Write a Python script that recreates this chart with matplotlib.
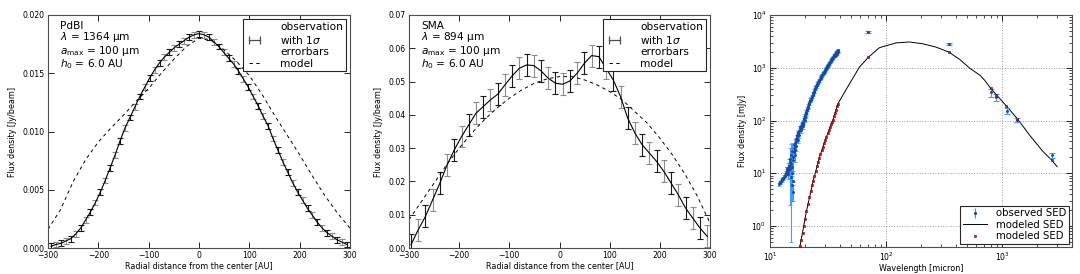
import matplotlib
matplotlib.use("Agg")
import matplotlib.pyplot as plt
from matplotlib.lines import Line2D

plt.rcParams.update({
    "font.family": ["DejaVu Sans"],
    "xtick.direction": "in", "ytick.direction": "in",
    "xtick.top": True, "ytick.right": True,
    "xtick.major.size": 4, "ytick.major.size": 4,
    "xtick.minor.size": 2, "ytick.minor.size": 2,
    "xtick.major.width": 0.6, "ytick.major.width": 0.6,
    "xtick.minor.width": 0.5, "ytick.minor.width": 0.5,
    "xtick.labelsize": 5.6, "ytick.labelsize": 5.6,
    "xtick.major.pad": 2.5, "ytick.major.pad": 2.5,
    "axes.linewidth": 0.8, "axes.edgecolor": "0.3",
    "mathtext.fontset": "dejavusans",
})

# ---------------- Panel 1: PdBI ----------------
pdbi_r = [-294.0, -284.2, -274.4, -264.6, -254.8, -245.0, -235.2, -225.4, -215.6, -205.8,
          -196.0, -186.2, -176.4, -166.6, -156.8, -147.0, -137.2, -127.4, -117.6, -107.8,
          -98.0, -88.2, -78.4, -68.6, -58.8, -49.0, -39.2, -29.4, -19.6, -9.8,
          0.0, 9.8, 19.6, 29.4, 39.2, 49.0, 58.8, 68.6, 78.4, 88.2,
          98.0, 107.8, 117.6, 127.4, 137.2, 147.0, 156.8, 166.6, 176.4, 186.2,
          196.0, 205.8, 215.6, 225.4, 235.2, 245.0, 254.8, 264.6, 274.4, 284.2, 294.0]
pdbi_obs = [0.00015, 0.0003, 0.0004, 0.0006, 0.0008, 0.0012, 0.0017, 0.0024, 0.0031, 0.0039,
            0.0048, 0.0058, 0.0069, 0.0080, 0.0092, 0.0103, 0.0112, 0.0121, 0.0130, 0.0138,
            0.0146, 0.0153, 0.0159, 0.0164, 0.0168, 0.0172, 0.0175, 0.0178, 0.0181, 0.0183,
            0.0184, 0.0183, 0.0181, 0.0177, 0.0173, 0.0168, 0.0163, 0.0158, 0.0152, 0.0145,
            0.0138, 0.0130, 0.0122, 0.0113, 0.0105, 0.0094, 0.0084, 0.0074, 0.0065, 0.0056,
            0.0048, 0.0041, 0.0034, 0.0028, 0.0022, 0.0017, 0.0013, 0.0010, 0.0007, 0.0005, 0.0003]
pdbi_err = 0.00025
model_r = [-300, -275, -250, -225, -200, -175, -150, -125, -100, -75, -50, -25, 0,
           25, 50, 75, 100, 125, 150, 175, 200, 225, 250, 275, 300]
pdbi_model = [0.0016, 0.0033, 0.0057, 0.0076, 0.0091, 0.0103, 0.0114, 0.0126, 0.0137, 0.0150,
              0.0162, 0.0173, 0.0180, 0.0178, 0.0170, 0.0160, 0.0148, 0.0132, 0.0114, 0.0097,
              0.0080, 0.0062, 0.0045, 0.0030, 0.0017]

# ---------------- Panel 2: SMA ----------------
sma_r = [-296.0, -281.6, -267.2, -252.8, -238.4, -224.0, -209.6, -195.2, -180.8, -166.4,
         -152.0, -137.6, -123.2, -108.8, -94.4, -80.0, -65.6, -51.2, -36.8, -22.4,
         -8.0, 6.4, 20.8, 35.2, 49.6, 64.0, 78.4, 92.8, 107.2, 121.6,
         136.0, 150.4, 164.8, 179.2, 193.6, 208.0, 222.4, 236.8, 251.2, 265.6, 280.0, 294.4]
sma_obs = [0.0010, 0.0055, 0.0095, 0.0145, 0.0195, 0.0250, 0.0295, 0.0335, 0.0370, 0.0405,
           0.0425, 0.0445, 0.0462, 0.0490, 0.0517, 0.0540, 0.0550, 0.0548, 0.0532, 0.0510,
           0.0495, 0.0492, 0.0502, 0.0525, 0.0555, 0.0578, 0.0575, 0.0540, 0.0505, 0.0455,
           0.0390, 0.0345, 0.0310, 0.0285, 0.0260, 0.0230, 0.0195, 0.0160, 0.0120, 0.0090,
           0.0060, 0.0035]
sma_err = 0.0033
sma_model = [0.0085, 0.0140, 0.0195, 0.0250, 0.0300, 0.0345, 0.0385, 0.0420, 0.0450, 0.0475,
             0.0495, 0.0508, 0.0515, 0.0515, 0.0505, 0.0490, 0.0470, 0.0445, 0.0410, 0.0375,
             0.0330, 0.0280, 0.0222, 0.0155, 0.0075]

# ---------------- Panel 3: SED ----------------
irs_wl = [12.0, 12.3, 12.6, 12.9, 13.2, 13.5, 13.8, 14.0, 14.2, 14.4, 14.6, 14.8, 15.0, 15.1,
          15.3, 15.4, 15.5, 15.6, 15.8, 15.9, 16.1, 16.3, 16.5, 16.8, 17.0, 17.3, 17.6, 17.9,
          18.2, 18.5, 18.8, 19.1, 19.4, 19.7, 20.0, 20.3, 20.6, 21.0, 21.4, 21.8, 22.2, 22.6,
          23.0, 23.5, 24.0, 24.5, 25.0, 25.5, 26.0, 26.5, 27.0, 27.5, 28.0, 28.5, 29.0, 29.5,
          30.0, 30.5, 31.0, 31.5, 32.0, 32.5, 33.0, 33.5, 34.0, 34.5, 35.0, 35.5, 36.0, 36.5,
          37.0, 37.5, 38.0, 38.5]
irs_flux = [6.2, 6.8, 7.3, 7.9, 8.6, 9.3, 10.2, 11.5, 9.8, 12.5, 14.0, 16.5, 12.0, 22.0,
            8.5, 27.0, 6.0, 13.0, 4.5, 18.0, 30.0, 22.0, 38.0, 33.0, 48.0, 42.0, 57.0, 52.0,
            70.0, 65.0, 82.0, 78.0, 95.0, 110.0, 102.0, 130.0, 145.0, 165.0, 190.0, 215.0, 245.0, 260.0,
            290.0, 330.0, 370.0, 420.0, 450.0, 500.0, 540.0, 580.0, 620.0, 670.0, 720.0, 760.0, 810.0, 860.0,
            920.0, 980.0, 1040.0, 1100.0, 1170.0, 1240.0, 1310.0, 1380.0, 1450.0, 1530.0, 1600.0, 1680.0, 1760.0, 1850.0,
            1950.0, 1800.0, 2050.0, 2150.0]
irs_err = [0.4, 0.4, 0.5, 0.5, 0.6, 0.6, 0.8, 1.5, 2.0, 3.0, 5.0, 14.0, 4.0, 14.0,
           8.0, 10.0, 3.0, 8.0, 1.5, 7.0, 6.0, 6.0, 6.0, 6.0, 6.0, 5.0, 6.0, 6.0,
           7.0, 7.0, 8.0, 8.0, 9.0, 10.0, 10.0, 11.0, 12.0, 13.0, 15.0, 16.0, 18.0, 19.0,
           20.0, 22.0, 24.0, 26.0, 28.0, 30.0, 32.0, 34.0, 36.0, 38.0, 40.0, 42.0, 44.0, 46.0,
           48.0, 50.0, 52.0, 55.0, 58.0, 60.0, 62.0, 65.0, 68.0, 70.0, 72.0, 75.0, 78.0, 80.0,
           85.0, 90.0, 90.0, 95.0]
irs2_wl = [12.15, 12.45, 12.75, 13.05, 13.35, 13.65, 13.9, 14.1, 14.3, 14.5, 14.7, 14.9, 15.2,
           15.45, 15.7, 15.85, 16.0, 16.2, 16.4, 16.65, 16.9, 17.15, 17.45, 17.75, 18.05, 18.35,
           18.65, 18.95, 19.25, 19.55, 19.85, 20.15, 20.45, 20.8, 21.2, 21.6, 22.0, 22.4, 22.8,
           23.25, 23.75, 24.25, 24.75, 25.25, 25.75, 26.25, 26.75, 27.25, 27.75, 28.25, 28.75,
           29.25, 29.75, 30.25, 30.75, 31.25, 31.75, 32.25, 32.75, 33.25, 33.75, 34.25, 34.75,
           35.25, 35.75, 36.25, 36.75, 37.25, 37.75, 38.25]
irs2_flux = [6.5, 7.0, 7.7, 8.1, 9.0, 9.8, 10.8, 12.5, 11.0, 13.5, 11.5, 19.0, 15.0,
             10.0, 20.0, 7.0, 25.0, 35.0, 28.0, 40.0, 44.0, 52.0, 60.0, 63.0, 75.0, 72.0,
             78.0, 90.0, 85.0, 105.0, 118.0, 125.0, 140.0, 160.0, 175.0, 205.0, 230.0, 250.0, 280.0,
             310.0, 350.0, 395.0, 430.0, 475.0, 520.0, 560.0, 600.0, 650.0, 690.0, 740.0, 790.0,
             830.0, 890.0, 950.0, 1010.0, 1070.0, 1130.0, 1200.0, 1280.0, 1340.0, 1420.0, 1490.0, 1560.0,
             1640.0, 1720.0, 1700.0, 1900.0, 1750.0, 2000.0, 1950.0]
phot_wl = [70.0, 350.0, 800.0, 880.0, 1100.0, 1350.0, 2700.0]
phot_flux = [4800.0, 2850.0, 340.0, 280.0, 150.0, 103.0, 22.0]
phot_err = [250.0, 150.0, 55.0, 45.0, 20.0, 10.0, 2.5]

sed_wl = [18.1, 20.6, 23.5, 26.8, 30.6, 34.9, 38.5, 48.5, 59.0, 70.5, 87.6, 122.0, 159.0, 207.0,
          270.0, 346.0, 431.0, 526.0, 642.0, 709.0, 795.0, 894.0, 1083.0, 1347.0, 1722.0, 2247.0,
          2690.0, 2980.0]
sed_flux = [0.41, 1.9, 7.0, 20.6, 49.0, 101.0, 209.0, 500.0, 1030.0, 1585.0, 2400.0, 2960.0, 3080.0, 2850.0,
            2460.0, 1990.0, 1440.0, 980.0, 725.0, 575.0, 410.0, 306.0, 191.0, 109.0, 53.0, 25.9,
            17.5, 13.3]
mod_wl = [18.1, 18.6, 19.1, 19.6, 20.1, 20.6, 21.2, 21.8, 22.4, 23.0, 23.5, 24.1, 24.7, 25.3,
          25.9, 26.5, 27.1, 27.8, 28.5, 29.2, 29.9, 30.6, 31.3, 32.0, 32.8, 33.6, 34.3, 35.0,
          35.7, 36.4, 37.1, 37.8, 38.5, 70.5, 346.0, 795.0, 894.0, 1083.0, 1347.0, 2690.0]
mod_flux = [0.41, 0.55, 0.75, 1.0, 1.35, 1.9, 2.6, 3.6, 4.7, 6.0, 7.0, 9.0, 11.2, 13.6,
            16.5, 19.3, 23.0, 27.5, 32.0, 37.0, 43.0, 49.0, 57.0, 65.0, 74.0, 84.0, 94.0, 103.0,
            120.0, 140.0, 160.0, 185.0, 209.0, 1585.0, 1990.0, 410.0, 306.0, 191.0, 109.0, 17.5]

fig = plt.figure(figsize=(10.8, 2.74), dpi=100)
ax1 = fig.add_axes([48/1080, 26/274, 302/1080, 233/274])
ax2 = fig.add_axes([409/1080, 26/274, 301/1080, 233/274])
ax3 = fig.add_axes([770/1080, 27/274, 302/1080, 232/274])

DASH = (0, (3.5, 3.5))


def profile(ax, r, obs, err, model, ylim, yticks, yfmt, lines):
    ax.plot(r, obs, color="black", lw=0.8, zorder=3)
    for i, (x, y) in enumerate(zip(r, obs)):
        col = "0.1" if i % 2 == 0 else "0.55"
        ax.errorbar([x], [y], yerr=[err], fmt="none", ecolor=col, elinewidth=0.8,
                    capsize=2.2, capthick=0.8, zorder=2)
    ax.plot(model_r, model, color="black", lw=0.7, ls=DASH, zorder=2)
    h1 = Line2D([], [], color="0.3", lw=0.9, marker="|", ms=6, mew=0.9)
    h2 = Line2D([], [], color="black", lw=0.7, ls=DASH)
    leg = ax.legend([h1, h2], ["observation\nwith 1$\\sigma$\nerrorbars", "model"], loc="upper right",
                    fontsize=7.6, frameon=True, fancybox=False, edgecolor="0.15", framealpha=1,
                    borderpad=0.25, labelspacing=0.1, handlelength=1.7, handletextpad=1.6,
                    borderaxespad=0.4, numpoints=2)
    leg.get_frame().set_linewidth(0.8)
    ax.set_xlim(-300, 300)
    ax.set_ylim(*ylim)
    ax.set_xticks([-300, -200, -100, 0, 100, 200, 300])
    ax.set_xticklabels(["\u2212300", "\u2212200", "\u2212100", "0", "100", "200", "300"])
    ax.set_yticks(yticks)
    ax.set_yticklabels([yfmt.format(v) for v in yticks])
    ax.set_xlabel("Radial distance from the center [AU]", fontsize=5.8, labelpad=0.5)
    ax.set_ylabel("Flux density [Jy/beam]", fontsize=5.8, labelpad=4)
    ax.text(0.04, 0.975, lines, transform=ax.transAxes, va="top", ha="left", fontsize=7.6,
            linespacing=0.95)


profile(ax1, pdbi_r, pdbi_obs, pdbi_err, pdbi_model, (0, 0.020),
        [0.0, 0.005, 0.010, 0.015, 0.020], "{:.3f}",
        "PdBI\n$\\lambda$ = 1364 \u03bcm\n$a_{\\rm max}$ = 100 \u03bcm\n$h_0$ = 6.0 AU")
profile(ax2, sma_r, sma_obs, sma_err, sma_model, (0, 0.07),
        [0.0, 0.01, 0.02, 0.03, 0.04, 0.05, 0.06, 0.07], "{:.2f}",
        "SMA\n$\\lambda$ = 894 \u03bcm\n$a_{\\rm max}$ = 100 \u03bcm\n$h_0$ = 6.0 AU")

# SED panel
blue_err = "#3d9cff"
blue_pt = "#1a4a9a"
ax3.errorbar(irs_wl, irs_flux, yerr=irs_err, fmt=".", color=blue_pt, ms=2.2, ecolor=blue_err,
             elinewidth=0.8, capsize=1.5, capthick=0.6, zorder=3)
ax3.errorbar(irs2_wl, irs2_flux, yerr=[0.04 * f for f in irs2_flux], fmt=".", color=blue_pt, ms=2.2,
             ecolor=blue_err, elinewidth=0.8, capsize=1.5, capthick=0.6, zorder=3)
ax3.errorbar(phot_wl, phot_flux, yerr=phot_err, fmt=".", color=blue_pt, ms=2.2, ecolor=blue_err,
             elinewidth=0.8, capsize=2, capthick=0.8, zorder=3)
ax3.plot(sed_wl, sed_flux, color="black", lw=0.7, zorder=2)
ax3.plot(mod_wl, mod_flux, ls="none", marker="s", ms=2.1, mfc="#e01010", mec="#700000",
         mew=0.4, zorder=4)
ax3.set_xscale("log")
ax3.set_yscale("log")
ax3.set_xlim(10, 4000)
ax3.set_ylim(0.4, 1e4)
ax3.grid(True, which="major", color="0.6", ls=":", lw=0.7)
ax3.set_xlabel("Wavelength [micron]", fontsize=5.8, labelpad=0.5)
ax3.set_ylabel("Flux density [mJy]", fontsize=5.8, labelpad=3)
he = ax3.errorbar([], [], yerr=[], fmt=".", color=blue_pt, ms=2.5, ecolor=blue_err,
                  elinewidth=0.8, capsize=2)
hl = Line2D([], [], color="black", lw=0.7)
hm = Line2D([], [], ls="none", marker="s", ms=2.0, mfc="#e01010", mec="#700000", mew=0.4)
leg = ax3.legend([he, hl, hm], ["observed SED", "modeled SED", "modeled SED"], loc="lower right",
                 fontsize=7.3, fancybox=False, edgecolor="0.15", framealpha=1, borderpad=0.25,
                 labelspacing=0.15, handlelength=2.4, handletextpad=0.9, borderaxespad=0.3,
                 numpoints=1)
leg.get_frame().set_linewidth(0.8)

fig.savefig("out.png", dpi=100)
